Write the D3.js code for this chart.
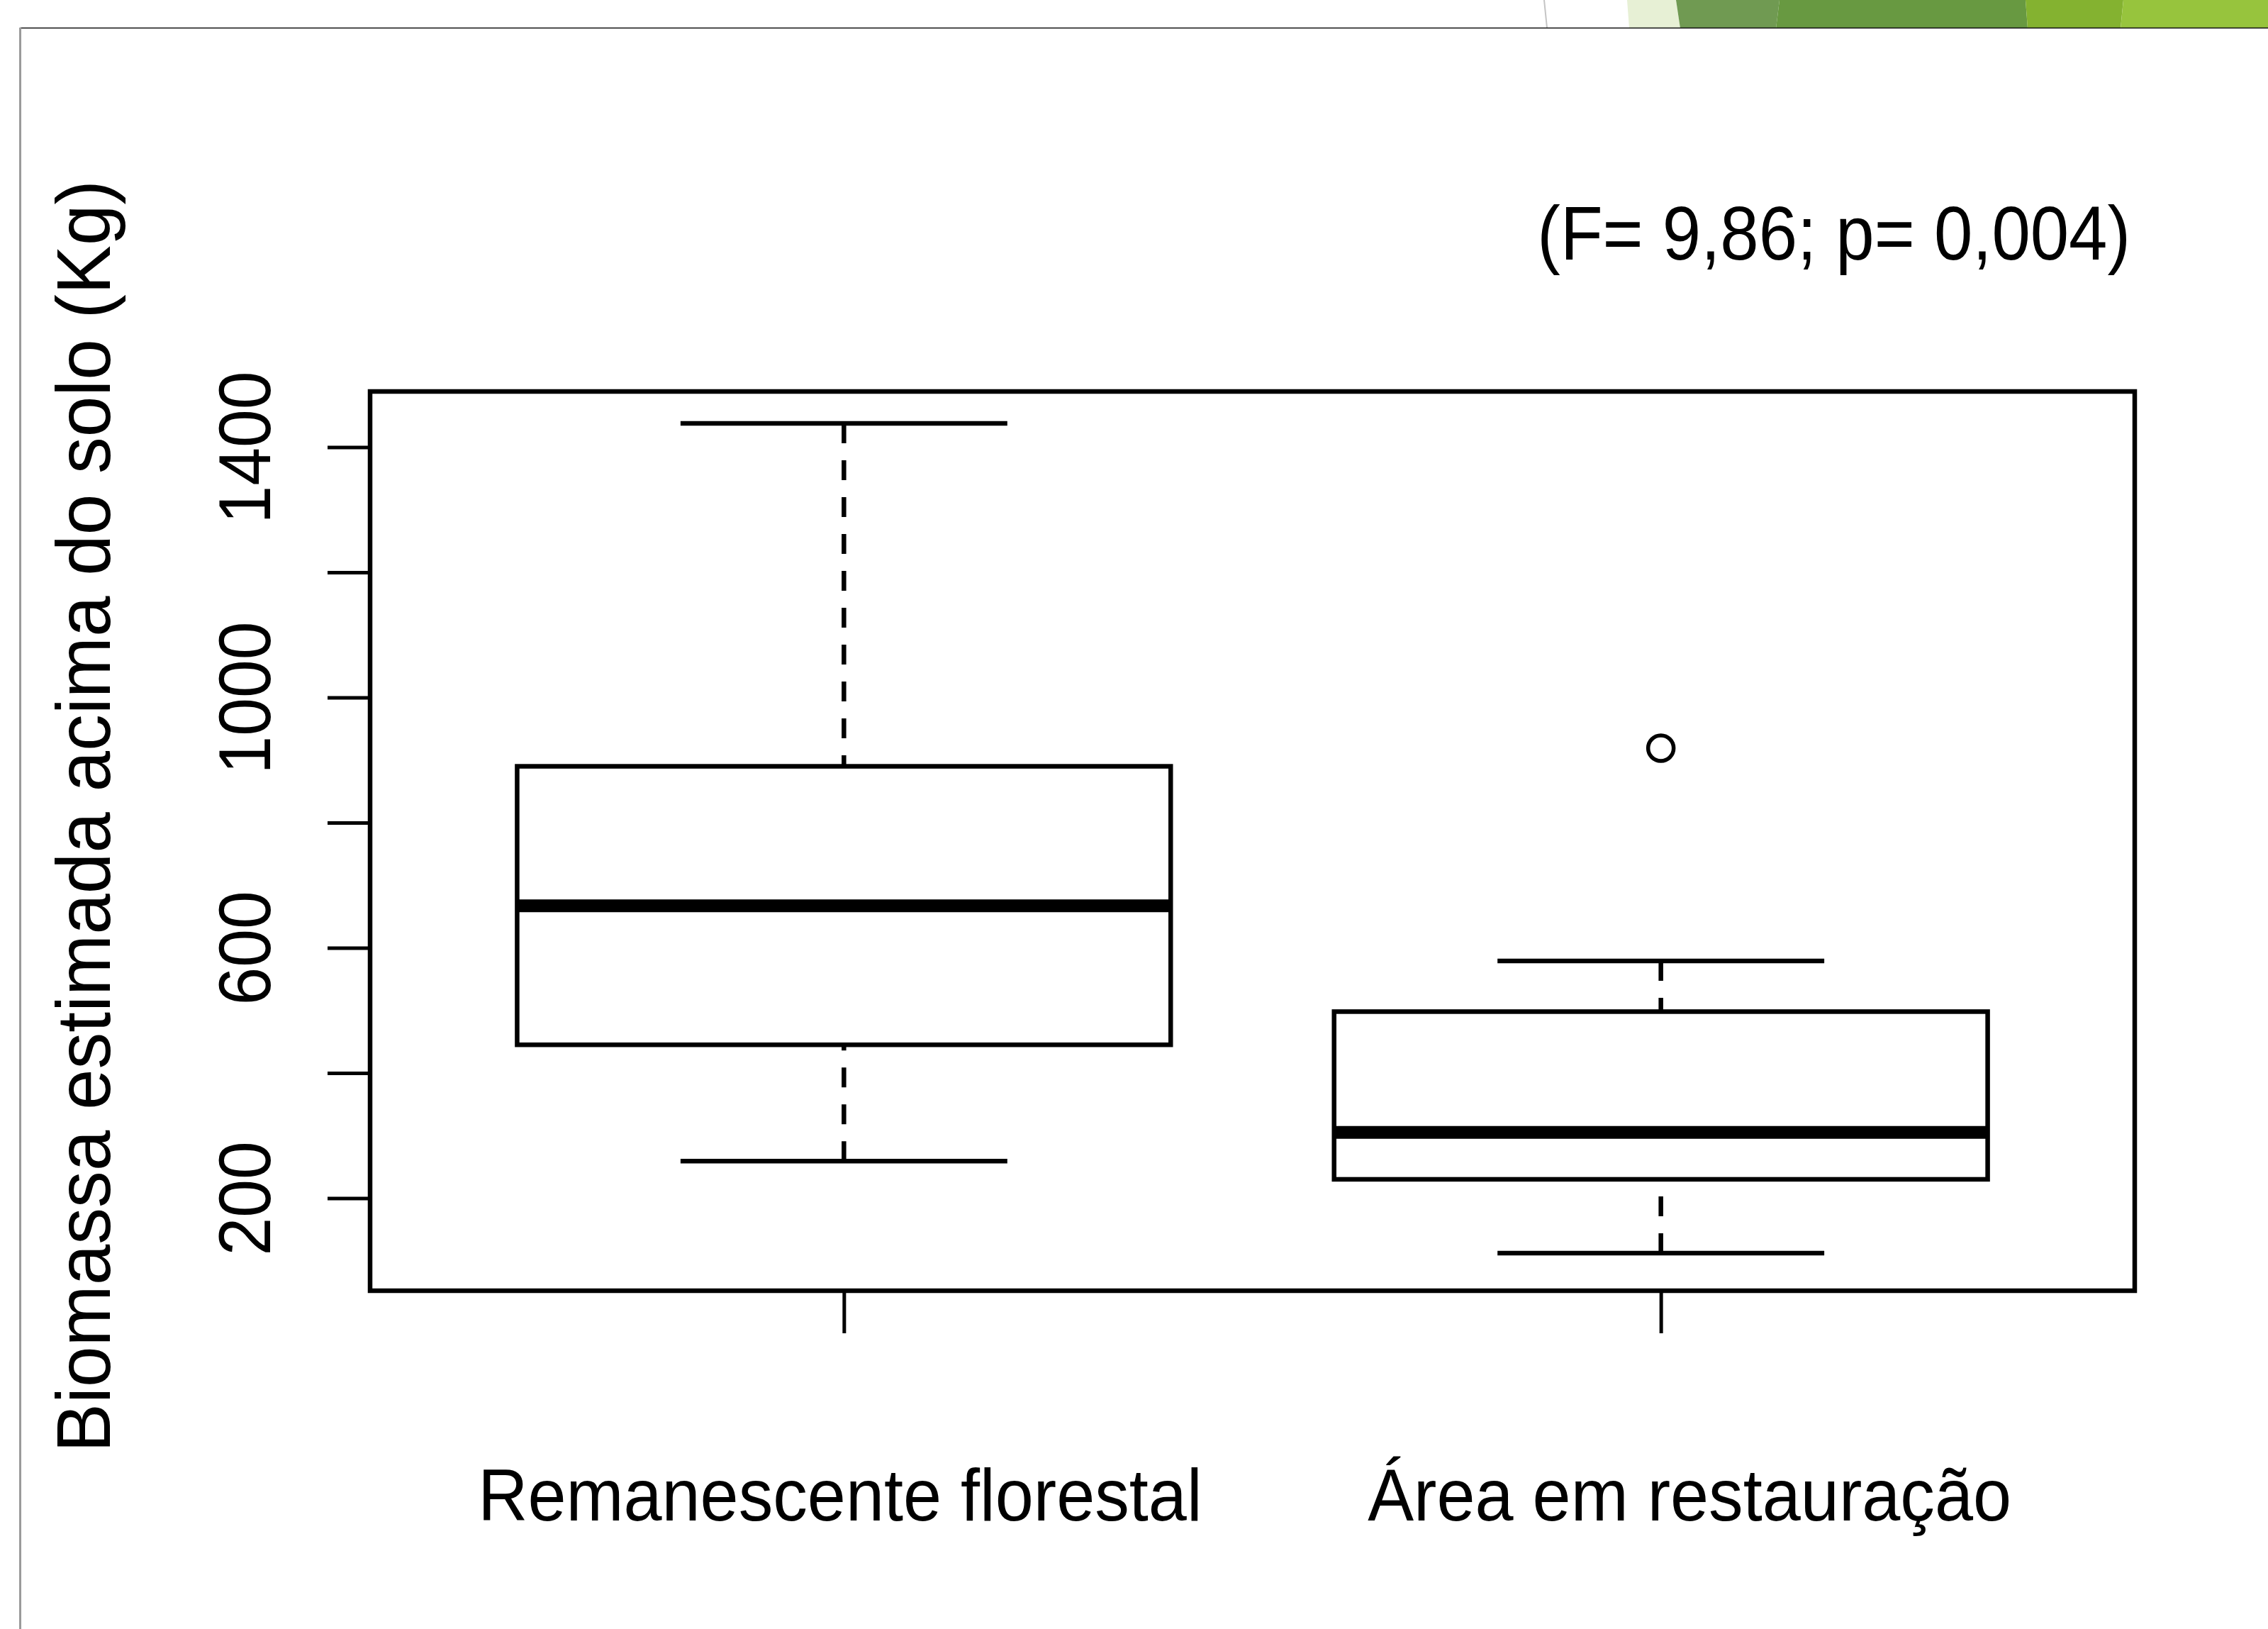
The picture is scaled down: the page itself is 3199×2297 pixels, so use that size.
<!DOCTYPE html>
<html>
<head>
<meta charset="utf-8">
<script src="https://cdn.jsdelivr.net/npm/d3@7"></script>
<style>
  html, body { margin: 0; padding: 0; background: #ffffff; }
  svg { display: block; }
  text { font-family: "Liberation Sans", Arial, "DejaVu Sans", sans-serif; fill: #000; }
</style>
</head>
<body>
<script>
// ---------------- DATA ----------------
const categories   = ["Remanescente florestal", "Área em restauração"];
const whiskerLow   = [259, 112];
const quartile1    = [445, 230];
const medians      = [667, 305];
const quartile3    = [890, 498];
const whiskerHigh  = [1438, 579];
const outlierGroup = [2];
const outlierValue = [919];
const yTickValues  = [200, 400, 600, 800, 1000, 1200, 1400];
const yTickLabels  = ["200", "", "600", "", "1000", "", "1400"];
const yAxisTitle   = "Biomassa estimada acima do solo (Kg)";
const annotation   = "(F= 9,86; p= 0,004)";

// ---------------- LAYOUT ----------------
const W = 3199, H = 2297;
const plot = { left: 522, right: 3011, top: 552, bottom: 1820 };
const xLabelNudge = [-6, 40];
const lw = 6.5;

const svg = d3.select("body").append("svg")
  .attr("width", W).attr("height", H)
  .attr("viewBox", `0 0 ${W} ${H}`);

svg.append("rect").attr("width", W).attr("height", H).attr("fill", "#ffffff");

// ---- slide decoration (top-right green band, frame lines) ----
const deco = svg.append("g");
const bands = [
  { pts: [[2295, 0], [2364, 0], [2370, 40], [2298, 40]], c: "#e7f0d5" },
  { pts: [[2364, 0], [2510, 0], [2505, 40], [2370, 40]], c: "#709a52" },
  { pts: [[2510, 0], [2857, 0], [2860, 40], [2505, 40]], c: "#689941" },
  { pts: [[2857, 0], [2995, 0], [2991, 40], [2860, 40]], c: "#84b230" },
  { pts: [[2995, 0], [3199, 0], [3199, 40], [2991, 40]], c: "#97c43d" }
];
deco.selectAll("polygon").data(bands).join("polygon")
  .attr("points", d => d.pts.map(p => p.join(",")).join(" "))
  .attr("fill", d => d.c);
deco.append("line").attr("x1", 2178).attr("y1", 0).attr("x2", 2182).attr("y2", 39)
  .attr("stroke", "#c4c4c4").attr("stroke-width", 2);
deco.append("line").attr("x1", 28).attr("y1", 39.5).attr("x2", W).attr("y2", 39.5)
  .attr("stroke", "#111").attr("stroke-width", 1.6);
deco.append("line").attr("x1", 28.5).attr("y1", 39).attr("x2", 28.5).attr("y2", H)
  .attr("stroke", "#9a9a9a").attr("stroke-width", 3);

// ---------------- SCALES ----------------
const x = d3.scaleLinear().domain([0.42, 2.58]).range([plot.left, plot.right]);
const y = d3.scaleLinear().domain([52, 1489]).range([plot.bottom, plot.top]);
const boxHalf = 0.4, capHalf = 0.2;

const boxes = categories.map((c, i) => ({
  pos: i + 1, lo: whiskerLow[i], q1: quartile1[i], med: medians[i],
  q3: quartile3[i], hi: whiskerHigh[i]
}));

const g = svg.append("g");

// whiskers (dashed)
g.selectAll("line.wlo").data(boxes).join("line").attr("class", "wlo")
  .attr("x1", d => x(d.pos)).attr("x2", d => x(d.pos))
  .attr("y1", d => y(d.lo)).attr("y2", d => y(d.q1))
  .attr("stroke", "#000").attr("stroke-width", lw).attr("stroke-dasharray", "28,24");
g.selectAll("line.whi").data(boxes).join("line").attr("class", "whi")
  .attr("x1", d => x(d.pos)).attr("x2", d => x(d.pos))
  .attr("y1", d => y(d.hi)).attr("y2", d => y(d.q3))
  .attr("stroke", "#000").attr("stroke-width", lw).attr("stroke-dasharray", "28,24");

// caps
g.selectAll("line.clo").data(boxes).join("line").attr("class", "clo")
  .attr("x1", d => x(d.pos - capHalf)).attr("x2", d => x(d.pos + capHalf))
  .attr("y1", d => y(d.lo)).attr("y2", d => y(d.lo))
  .attr("stroke", "#000").attr("stroke-width", lw);
g.selectAll("line.chi").data(boxes).join("line").attr("class", "chi")
  .attr("x1", d => x(d.pos - capHalf)).attr("x2", d => x(d.pos + capHalf))
  .attr("y1", d => y(d.hi)).attr("y2", d => y(d.hi))
  .attr("stroke", "#000").attr("stroke-width", lw);

// boxes
g.selectAll("rect.box").data(boxes).join("rect").attr("class", "box")
  .attr("x", d => x(d.pos - boxHalf)).attr("width", d => x(d.pos + boxHalf) - x(d.pos - boxHalf))
  .attr("y", d => y(d.q3)).attr("height", d => y(d.q1) - y(d.q3))
  .attr("fill", "none").attr("stroke", "#000").attr("stroke-width", lw);

// medians
g.selectAll("line.med").data(boxes).join("line").attr("class", "med")
  .attr("x1", d => x(d.pos - boxHalf)).attr("x2", d => x(d.pos + boxHalf))
  .attr("y1", d => y(d.med)).attr("y2", d => y(d.med))
  .attr("stroke", "#000").attr("stroke-width", 18);

// outliers
g.selectAll("circle.out").data(outlierValue.map((v, i) => ({ pos: outlierGroup[i], v })))
  .join("circle").attr("class", "out")
  .attr("cx", d => x(d.pos)).attr("cy", d => y(d.v)).attr("r", 18)
  .attr("fill", "none").attr("stroke", "#000").attr("stroke-width", 5.5);

// plot frame
svg.append("rect")
  .attr("x", plot.left).attr("y", plot.top)
  .attr("width", plot.right - plot.left).attr("height", plot.bottom - plot.top)
  .attr("fill", "none").attr("stroke", "#000").attr("stroke-width", lw);

// ---------------- AXES ----------------
const yAxis = svg.append("g").attr("transform", `translate(${plot.left},0)`)
  .call(d3.axisLeft(y).tickValues(yTickValues).tickSize(60).tickFormat((d, i) => yTickLabels[i]));
yAxis.select(".domain").remove();
yAxis.selectAll(".tick line").attr("stroke", "#000").attr("stroke-width", 5);
yAxis.selectAll(".tick text")
  .attr("x", 0).attr("y", -141).attr("dy", null)
  .attr("transform", "rotate(-90) scale(0.93,1)")
  .attr("text-anchor", "middle")
  .style("font-size", "104px").style("font-family", "'Liberation Sans', Arial, sans-serif")
  .attr("fill", "#000");

const xAxis = svg.append("g").attr("transform", `translate(0,${plot.bottom})`)
  .call(d3.axisBottom(x).tickValues([1, 2]).tickSize(60).tickFormat(d => categories[d - 1]));
xAxis.select(".domain").remove();
xAxis.selectAll(".tick line").attr("stroke", "#000").attr("stroke-width", 5);
xAxis.selectAll(".tick text")
  .attr("y", 324).attr("dy", null)
  .attr("x", (d, i) => xLabelNudge[i] / 0.935)
  .attr("transform", "scale(0.935,1)")
  .attr("text-anchor", "middle")
  .style("font-size", "104px").style("font-family", "'Liberation Sans', Arial, sans-serif")
  .attr("fill", "#000");

// y-axis title
svg.append("g").attr("transform", "translate(155,1151)")
  .append("text")
  .attr("transform", "rotate(-90) scale(0.958,1)")
  .attr("text-anchor", "middle")
  .style("font-size", "108px")
  .text(yAxisTitle);

// annotation
svg.append("g").attr("transform", "translate(3005,366)")
  .append("text")
  .attr("transform", "scale(0.905,1)")
  .attr("text-anchor", "end")
  .style("font-size", "108px")
  .text(annotation);
</script>
</body>
</html>
